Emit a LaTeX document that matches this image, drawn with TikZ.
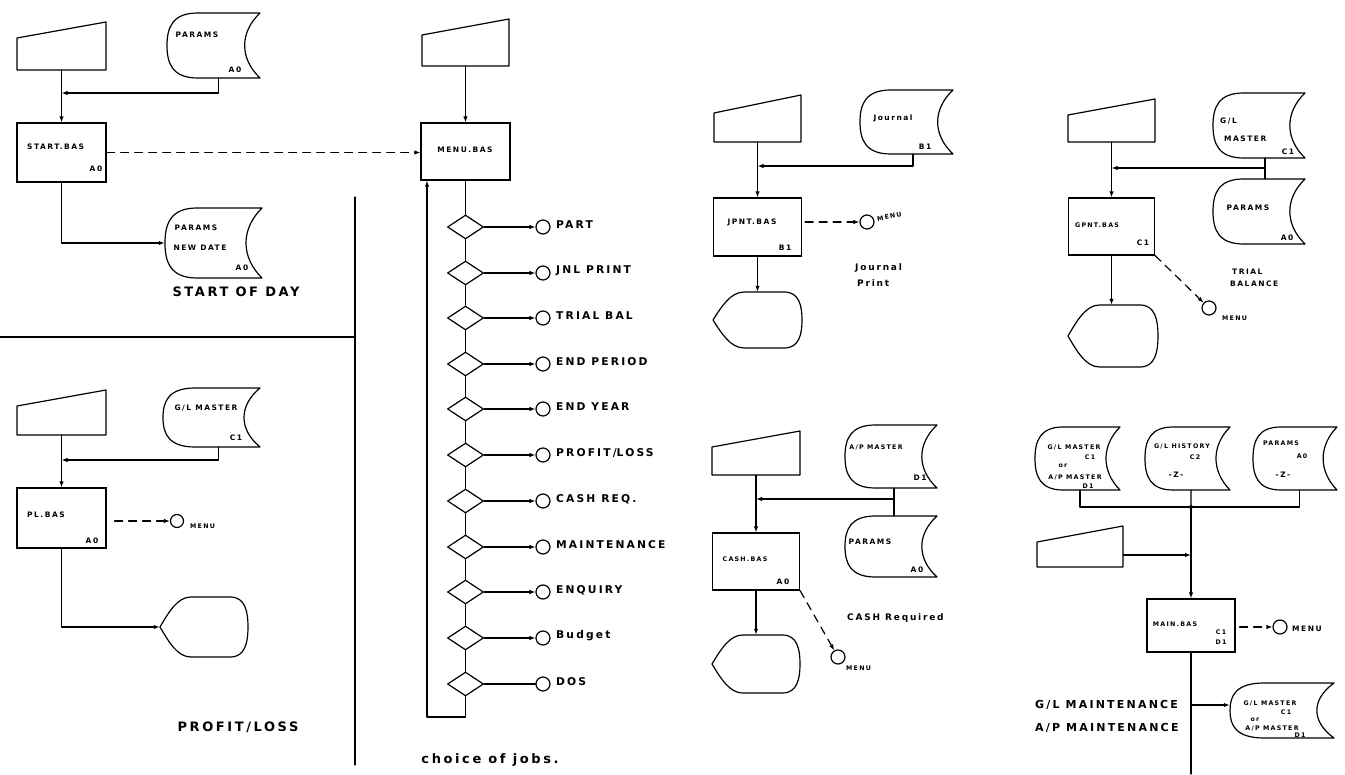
\documentclass[tikz,border=0pt]{standalone}
\usepackage{fontspec}
\setmainfont{DejaVu Sans}
\newfontfamily\hand[LetterSpace=20]{DejaVu Sans}
\usetikzlibrary{arrows.meta,shapes.geometric,fit,calc}

\tikzset{
 ln/.style={line width=1.2pt,line cap=round,line join=round},
 arr/.style={ln,-{Latex[length=6pt,width=4.5pt]}},
 darr/.style={ln,dash pattern=on 8pt off 6pt,-{Latex[length=6pt,width=4.5pt]}},
 proc/.style={draw,line width=1.2pt,inner sep=0pt,rectangle},
 hole/.style={inner sep=0pt,draw=none},
 dia/.style={draw,diamond,line width=1.2pt,inner sep=0pt,minimum width=36pt,minimum height=24pt},
 term/.style={draw,circle,line width=1.2pt,inner sep=0pt,minimum size=14pt},
 lbl/.style={font=\hand\bfseries\fontsize{7.5}{8.5}\selectfont,inner sep=0pt},
 tiny/.style={font=\hand\bfseries\fontsize{6.3}{7}\selectfont,inner sep=0pt},
 opt/.style={font=\hand\bfseries\fontsize{10.7}{12}\selectfont,inner sep=0pt,anchor=west},
 ttl/.style={font=\hand\bfseries\fontsize{13}{15}\selectfont,inner sep=0pt},
 note/.style={font=\hand\bfseries\fontsize{9}{11}\selectfont,inner sep=0pt,anchor=west},
 big/.style={font=\hand\bfseries\fontsize{11}{12}\selectfont,inner sep=0pt,anchor=west},
}

% manual input: name, x1, x2, y top-left, y top-right, y bottom
\newcommand\manin[6]{%
 \node[hole,fit={(#2,#5) (#3,#6)}] (#1) {};
 \draw[ln] (#2,#4) -- (#3,#5) -- (#3,#6) -- (#2,#6) -- cycle;}
% stored data: name, x1, y1, x2, y2
\newcommand\disk[5]{%
 \node[hole,fit={(#2,#3) (#4,#5)}] (#1) {};
 \draw[ln] ({#2+0.33*(#4-#2)},#3) -- (#4,#3)
   .. controls ({#4-0.22*(#4-#2)},{#3+0.3*(#5-#3)}) and ({#4-0.22*(#4-#2)},{#5-0.3*(#5-#3)}) .. (#4,#5)
   -- ({#2+0.33*(#4-#2)},#5)
   .. controls ({#2+0.06*(#4-#2)},#5) and (#2,{#5-0.22*(#5-#3)}) .. (#2,{0.5*(#3+#5)})
   .. controls (#2,{#3+0.22*(#5-#3)}) and ({#2+0.06*(#4-#2)},#3) .. ({#2+0.33*(#4-#2)},#3) -- cycle;}
% display: name, x1, y1, x2, y2
\newcommand\disp[5]{%
 \node[hole,fit={(#2,#3) (#4,#5)}] (#1) {};
 \draw[ln] (#2,{0.5*(#3+#5)})
   .. controls ({#2+0.1*(#4-#2)},{#3+0.25*(#5-#3)}) and ({#2+0.2*(#4-#2)},#3) .. ({#2+0.35*(#4-#2)},#3)
   -- ({#4-0.2*(#4-#2)},#3)
   .. controls ({#4-0.03*(#4-#2)},#3) and (#4,{#3+0.25*(#5-#3)}) .. (#4,{0.5*(#3+#5)})
   .. controls (#4,{#5-0.25*(#5-#3)}) and ({#4-0.03*(#4-#2)},#5) .. ({#4-0.2*(#4-#2)},#5)
   -- ({#2+0.35*(#4-#2)},#5)
   .. controls ({#2+0.2*(#4-#2)},#5) and ({#2+0.1*(#4-#2)},{#5-0.25*(#5-#3)}) .. (#2,{0.5*(#3+#5)}) -- cycle;}

\begin{document}
\begin{tikzpicture}[x=1pt,y=-1pt]
\useasboundingbox (0,0) rectangle (1345,775);

% ---------- START OF DAY ----------
\manin{m1}{17}{106}{38}{22}{70}
\disk{d1}{167}{13}{260}{78}
\node[lbl] (t1) at (197,35) {PARAMS};
\node[lbl] (t2) at (235,70) {A0};
\node[proc,minimum width=89pt,minimum height=59pt] (p1) at (61.5,152.5) {};
\node[lbl,anchor=west] (t3) at (27,147) {START.BAS};
\node[lbl] (t4) at (96,169) {A0};
\coordinate (j1) at (61.5,93);
\draw[arr] ($(d1.south west)!0.55!(d1.south east)$) |- (j1);
\draw[arr] (m1) -- (p1);
\disk{d2}{165}{208}{262}{278}
\node[lbl] (t5) at (196,228) {PARAMS};
\node[lbl] (t6) at (200,248) {NEW DATE};
\node[lbl] (t7) at (242,268) {A0};
\draw[arr] (p1.south) |- (d2.west);
\node[ttl] (t8) at (236,292) {START OF DAY};

\draw[ln] (0,337) -- (355,337);
\draw[ln] (355,197) -- (355,765);

% ---------- PROFIT / LOSS ----------
\manin{m2}{17}{106}{406}{390}{435}
\disk{d3}{163}{388}{260}{447}
\node[lbl] (t9) at (206,408) {G/L MASTER};
\node[lbl] (t10) at (236,438) {C1};
\coordinate (j2) at (61.5,460);
\draw[arr] ($(d3.south west)!0.57!(d3.south east)$) |- (j2);
\node[proc,minimum width=89pt,minimum height=60pt] (p2) at (61.5,518) {};
\draw[arr] (m2) -- (p2);
\node[lbl,anchor=west] (t11) at (27,515) {PL.BAS};
\node[lbl] (t12) at (92,541) {A0};
\node[term,minimum size=13pt] (c2) at (177,521) {};
\draw[darr,shorten <=8pt] (p2.east |- c2) -- (c2);
\node[tiny,anchor=west] (t13) at (190,526) {MENU};
\disp{o2}{160}{597}{248}{657}
\draw[arr] (p2.south) |- (o2.west);
\node[ttl] (t14) at (238,727) {PROFIT/LOSS};

% ---------- MENU ----------
\manin{m3}{422}{509}{35}{19}{66}
\node[proc,minimum width=89pt,minimum height=57pt] (p3) at (465.5,151.5) {};
\node[lbl] (t15) at (465,150) {MENU.BAS};
\draw[arr] (m3) -- (p3);
\draw[darr] (p1.east) -- (p1.east -| p3.west);
\foreach \i/\y/\t in {1/227/PART,2/273/JNL PRINT,3/318/TRIAL BAL,4/364/END PERIOD,5/409/END YEAR,6/455/PROFIT\slash LOSS,7/501/CASH REQ.,8/547/MAINTENANCE,9/592/ENQUIRY,10/638/Budget,11/684/DOS}{
  \node[dia] (q\i) at (465.5,\y) {};
  \node[term] (r\i) at (543,\y) {};
  \node[opt] (s\i) at (556,\y-2) {\t};
}
\foreach \i in {1,...,10}{\draw[arr] (q\i) -- (r\i);}
\draw[ln] (q11) -- (r11);
\draw[ln] (p3) -- (q1);
\foreach \i [evaluate=\i as \j using int(\i+1)] in {1,...,10}{\draw[ln] (q\i) -- (q\j);}
\coordinate (lp) at (427,717);
\draw[arr] (q11.south) |- (lp) -- (lp |- p3.south);
\node[ttl] (t16) at (490,760) {choice of jobs.};

% ---------- JOURNAL PRINT ----------
\manin{m4}{714}{801}{113}{95}{142}
\disk{d4}{860}{90}{953}{154}
\node[lbl] (t17) at (893,118) {Journal};
\node[lbl] (t18) at (925,147) {B1};
\coordinate (j4) at (757.5,166);
\draw[arr] ($(d4.south west)!0.57!(d4.south east)$) |- (j4);
\node[proc,minimum width=88pt,minimum height=58pt] (p4) at (757.5,227) {};
\draw[arr] (m4) -- (p4);
\node[lbl] (t19) at (752,222) {JPNT.BAS};
\node[lbl] (t20) at (785,248) {B1};
\node[term] (c4) at (867,222) {};
\draw[darr,shorten <=3pt] (p4.east |- c4) -- (c4);
\node[tiny,anchor=west,rotate=10] (t21) at (877,219) {MENU};
\disp{o4}{713}{292}{802}{348}
\draw[arr] (p4.south) -- (p4.south |- o4.north);
\node[note] (t22) at (855,268) {Journal};
\node[note] (t23) at (857,283) {Print};

% ---------- TRIAL BALANCE ----------
\manin{m5}{1068}{1155}{115}{99}{142}
\disk{d5}{1213}{93}{1305}{158}
\disk{d6}{1213}{179}{1305}{244}
\node[lbl,anchor=west] (t24) at (1220,121) {G/L};
\node[lbl,anchor=west] (t25) at (1224,139) {MASTER};
\node[lbl] (t26) at (1288,152) {C1};
\node[lbl] (t27) at (1248,208) {PARAMS};
\node[lbl] (t28) at (1287,238) {A0};
\coordinate (k5) at (1265,168);
\coordinate (j5) at (1111.5,168);
\draw[ln] ($(d5.south west)!0.565!(d5.south east)$) -- ($(d6.north west)!0.565!(d6.north east)$);
\draw[arr] (k5) -- (j5);
\node[proc,minimum width=86pt,minimum height=57pt] (p5) at (1111.5,226.5) {};
\draw[arr] (m5) -- (p5);
\node[tiny] (t29) at (1097,225) {GPNT.BAS};
\node[lbl] (t30) at (1143,243) {C1};
\node[term] (c5) at (1209,308) {};
\draw[darr] (p5.south east) -- (c5);
\node[tiny,anchor=west] (t31) at (1222,318) {MENU};
\disp{o5}{1068}{305}{1158}{367}
\draw[arr] (p5.south) -- (p5.south |- o5.north);
\node[lbl,anchor=west] (t32) at (1232,272) {TRIAL};
\node[lbl,anchor=west] (t33) at (1230,284) {BALANCE};

% ---------- CASH REQUIRED ----------
\manin{m6}{712}{800}{447}{431}{475}
\disk{d7}{845}{425}{937}{488}
\disk{d8}{845}{516}{937}{577}
\node[tiny] (t34) at (876,447) {A/P MASTER};
\node[lbl] (t35) at (920,478) {D1};
\node[lbl] (t36) at (870,542) {PARAMS};
\node[lbl] (t37) at (917,570) {A0};
\coordinate (k6) at (894,499);
\coordinate (j6) at (756,499);
\draw[ln] ($(d7.south west)!0.533!(d7.south east)$) -- ($(d8.north west)!0.533!(d8.north east)$);
\draw[arr] (k6) -- (j6);
\node[proc,minimum width=87pt,minimum height=57pt] (p6) at (756,561.5) {};
\draw[arr] (m6) -- (p6);
\node[tiny] (t38) at (745,559) {CASH.BAS};
\node[lbl] (t39) at (783,582) {A0};
\node[term] (c6) at (838,657) {};
\draw[darr] (p6.south east) -- (c6);
\node[tiny,anchor=west] (t40) at (846,668) {MENU};
\disp{o6}{712}{635}{800}{693}
\draw[arr] (p6.south) -- (p6.south |- o6.north);
\node[note] (t41) at (847,618) {CASH Required};

% ---------- MAINTENANCE ----------
\disk{d9}{1035}{427}{1120}{490}
\disk{d10}{1145}{427}{1230}{490}
\disk{d11}{1253}{427}{1337}{490}
\node[tiny] (t42) at (1074,447) {G/L MASTER};
\node[tiny] (t43) at (1090,457) {C1};
\node[tiny] (t44) at (1063,466) {or};
\node[tiny] (t45) at (1075,477) {A/P MASTER};
\node[tiny] (t46) at (1088,486) {D1};
\node[tiny] (t47) at (1182,446) {G/L HISTORY};
\node[tiny] (t48) at (1195,457) {C2};
\node[lbl] (t49) at (1176,475) {-Z-};
\node[tiny] (t50) at (1281,443) {PARAMS};
\node[tiny] (t51) at (1302,456) {A0};
\node[lbl] (t52) at (1283,475) {-Z-};
\coordinate (b2) at (1191,507);
\draw[ln] ($(d9.south west)!0.53!(d9.south east)$) |- (b2);
\draw[ln] ($(d11.south west)!0.55!(d11.south east)$) |- (b2);
\draw[ln] ($(d10.south west)!0.54!(d10.south east)$) -- (b2);
\fill (b2) circle (2pt);
\manin{m7}{1037}{1123}{542}{526}{567}
\node[proc,minimum width=88pt,minimum height=53pt] (p7) at (1191,625.5) {};
\draw[arr] (b2) -- (p7.north);
\coordinate (j7) at (1191,555);
\draw[arr] (m7.east |- j7) -- (j7);
\node[tiny] (t53) at (1175,624) {MAIN.BAS};
\node[tiny] (t54) at (1221,632) {C1};
\node[tiny] (t55) at (1221,642) {D1};
\node[term] (c7) at (1280,627) {};
\draw[darr,shorten <=4pt] (p7.east |- c7) -- (c7);
\node[lbl,anchor=west] (t56) at (1292,629) {MENU};
\coordinate (e7) at (1191,774);
\draw[ln] (p7.south) -- (e7);
\disk{d12}{1230}{683}{1334}{738}
\coordinate (j8) at (1191,705);
\draw[arr] (j8) -- (j8 -| d12.west);
\node[tiny] (t57) at (1270,703) {G/L MASTER};
\node[tiny] (t58) at (1286,712) {C1};
\node[tiny] (t59) at (1255,720) {or};
\node[tiny] (t60) at (1272,728) {A/P MASTER};
\node[tiny] (t61) at (1300,735) {D1};
\node[big] (t62) at (1035,705) {G/L MAINTENANCE};
\node[big] (t63) at (1035,728) {A/P MAINTENANCE};
\end{tikzpicture}
\end{document}
